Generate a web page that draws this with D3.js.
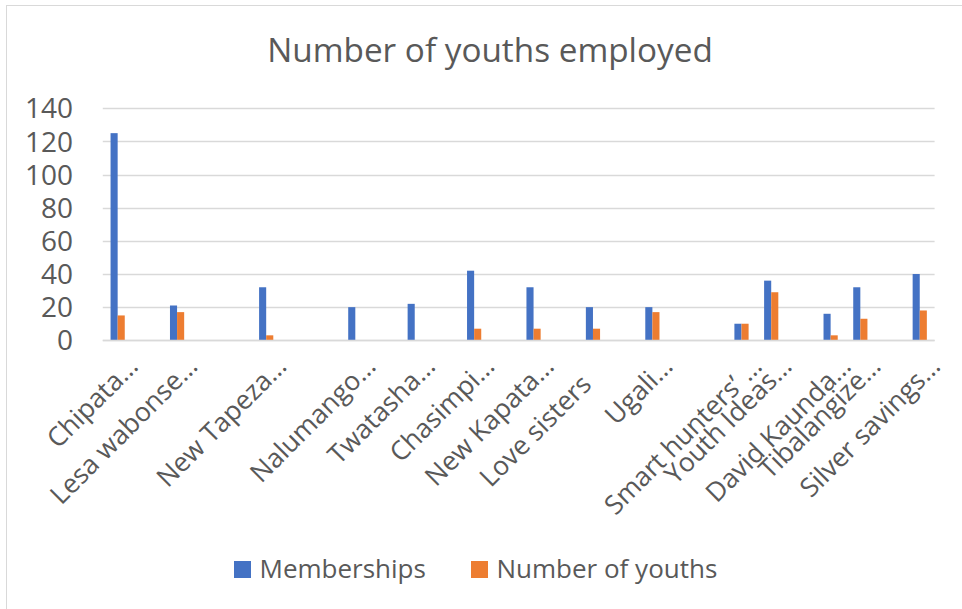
<!DOCTYPE html>
<html>
<head>
<meta charset="utf-8">
<script src="https://cdn.jsdelivr.net/npm/d3@7"></script>
<style>
  html, body { margin: 0; padding: 0; background: #fff; }
  svg { display: block; font-family: "Open Sans", sans-serif; }
</style>
</head>
<body>
<svg id="chart" width="962" height="609"></svg>
<script>
// ---- data ----
const categories = [
  "Chipata…", "", "Lesa wabonse…", "", "", "New Tapeza…", "", "", "Nalumango…", "",
  "Twatasha…", "", "Chasimpi…", "", "New Kapata…", "", "Love sisters", "", "Ugali…", "",
  "", "Smart hunters’ …", "Youth Ideas…", "", "David Kaunda…", "Tibalangize…", "", "Silver savings…"
];
const memberships = [125, null, 21, null, null, 32, null, null, 20, null,
  22, null, 42, null, 32, null, 20, null, 20, null,
  null, 10, 36, null, 16, 32, null, 40];
const youths = [15, null, 17, null, null, 3, null, null, 0, null,
  0, null, 7, null, 7, null, 7, null, 17, null,
  null, 10, 29, null, 3, 13, null, 18];
const seriesNames = ["Memberships", "Number of youths"];
const yTicks = [0, 20, 40, 60, 80, 100, 120, 140];
const title = "Number of youths employed";

// ---- layout / style ----
const colors = ["#4472C4", "#ED7D31"];
const textColor = "#595959";
const svg = d3.select("#chart");

svg.append("rect")
  .attr("x", 6.5).attr("y", 5.5).attr("width", 980).attr("height", 640)
  .attr("fill", "#fff").attr("stroke", "#d9d9d9").attr("stroke-width", 1);

const x = d3.scaleBand().domain(d3.range(categories.length)).range([102.8, 934.6]).padding(0);
const y = d3.scaleLinear().domain([0, 140]).range([340.3, 108.3]);
const barW = 7.1;
const xs = d3.scaleBand().domain(seriesNames).range([x.bandwidth() / 2 - barW, x.bandwidth() / 2 + barW]);

// gridlines
svg.append("g").selectAll("line").data(yTicks).join("line")
  .attr("x1", x.range()[0]).attr("x2", x.range()[1])
  .attr("y1", d => Math.round(y(d)) + 0.5).attr("y2", d => Math.round(y(d)) + 0.5)
  .attr("stroke", "#d9d9d9").attr("stroke-width", 1.3);

// y labels
svg.append("g").selectAll("text").data(yTicks).join("text")
  .attr("x", 73).attr("y", d => y(d))
  .attr("dy", "0.36em")
  .attr("text-anchor", "end")
  .attr("font-size", 28)
  .attr("fill", textColor)
  .text(d => d);

// bars
const seriesData = [memberships, youths];
seriesData.forEach((vals, si) => {
  svg.append("g").selectAll("rect")
    .data(vals.map((v, i) => ({ i, v })).filter(d => d.v !== null && d.v > 0))
    .join("rect")
    .attr("x", d => x(d.i) + xs(seriesNames[si]))
    .attr("width", xs.bandwidth())
    .attr("y", d => y(d.v))
    .attr("height", d => y(0) - y(d.v))
    .attr("fill", colors[si]);
});

// baseline
svg.append("line")
  .attr("x1", x.range()[0]).attr("x2", x.range()[1])
  .attr("y1", Math.round(y(0)) + 0.5).attr("y2", Math.round(y(0)) + 0.5)
  .attr("stroke", "#d9d9d9").attr("stroke-width", 1.3);

// x labels
svg.append("g").selectAll("text")
  .data(categories.map((c, i) => ({ c, i })).filter(d => d.c !== ""))
  .join("text")
  .attr("transform", d => {
    const trunc = d.c.endsWith("…");
    const cx = x(d.i) + x.bandwidth() / 2 + (trunc ? 22 : 0);
    const cy = trunc ? 368 : 386;
    return `translate(${cx},${cy}) rotate(-45)`;
  })
  .attr("text-anchor", "end")
  .attr("font-size", 26.5)
  .attr("fill", textColor)
  .text(d => d.c);

// title
svg.append("text")
  .attr("x", 490).attr("y", 61.5)
  .attr("text-anchor", "middle")
  .attr("font-size", 33.3)
  .attr("fill", textColor)
  .text(title);

// legend
const legend = svg.append("g");
const legendItems = [{ name: seriesNames[0], x: 234 }, { name: seriesNames[1], x: 471 }];
legendItems.forEach((d, i) => {
  legend.append("rect").attr("x", d.x).attr("y", 561).attr("width", 17).attr("height", 17).attr("fill", colors[i]);
  legend.append("text").attr("x", d.x + 25.5).attr("y", 578)
    .attr("font-size", 26).attr("fill", textColor).text(d.name);
});
</script>
</body>
</html>
